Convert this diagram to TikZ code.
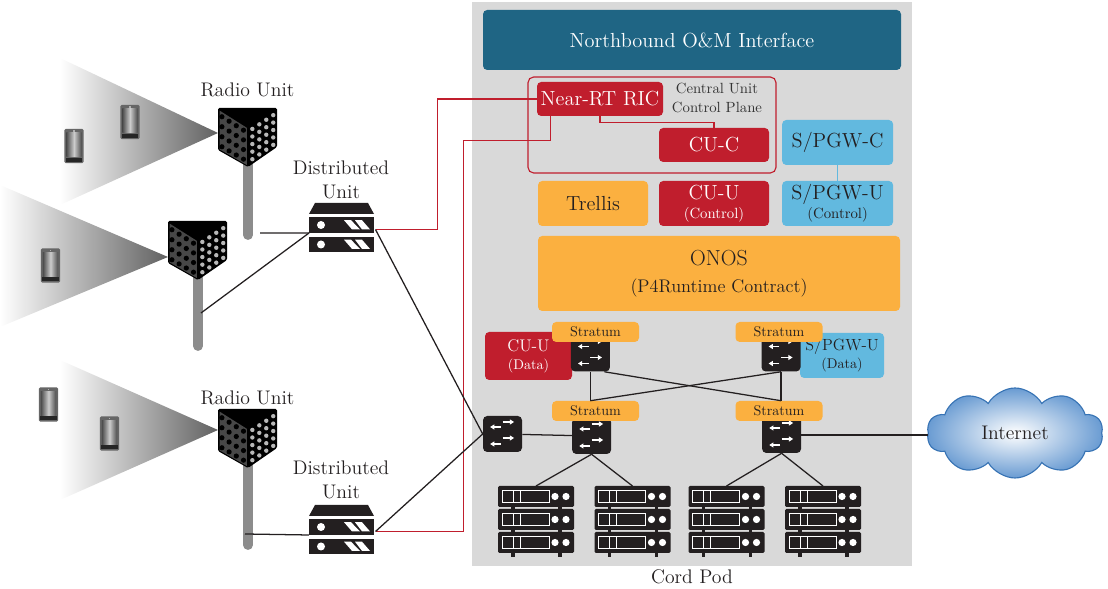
\documentclass[tikz,border=0pt]{standalone}
\usepackage{tikz}
\usetikzlibrary{arrows.meta,shapes.symbols}
\definecolor{ranteal}{RGB}{31,101,132}
\definecolor{ranred}{RGB}{192,30,45}
\definecolor{ranorange}{RGB}{251,176,64}
\definecolor{ranblue}{RGB}{98,185,223}
\definecolor{rangray}{RGB}{217,217,217}
\definecolor{ranblack}{RGB}{35,31,32}
\definecolor{rantext}{RGB}{35,31,32}
\definecolor{rancloud}{RGB}{105,155,210}
\definecolor{rancloudedge}{RGB}{55,115,180}
\tikzset{
  ranbox/.style={rounded corners=3pt, align=center, inner sep=0pt, text=rantext,
    font=\fontsize{14.5}{16}\selectfont},
  ranredbox/.style={ranbox, fill=ranred, text=white},
  ranorangebox/.style={ranbox, fill=ranorange},
  ranbluebox/.style={ranbox, fill=ranblue},
  stratumbox/.style={ranbox, fill=ranorange, minimum width=2.175cm,
    minimum height=0.5cm, font=\fontsize{10}{12}\selectfont},
  ranswitch/.style={fill=ranblack, rounded corners=3pt, minimum width=0.975cm,
    minimum height=0.9cm, inner sep=0pt,
    path picture={
      \begin{scope}[shift={(path picture bounding box.center)}, white,
          line width=1pt, -{Triangle[width=3.5pt,length=3pt]}]
        \draw (0.0,0.30) -- (0.29,0.30);
        \draw (0.0,-0.10) -- (0.29,-0.10);
        \draw (-0.04,0.175) -- (-0.31,0.175);
        \draw (-0.04,-0.25) -- (-0.31,-0.25);
      \end{scope}}},
  ranlink/.style={draw=ranblack, line width=0.9pt},
  ranredlink/.style={draw=ranred, line width=0.9pt},
  ranpole/.style={draw=black!45, line width=7pt, line cap=round},
  ranlabel/.style={align=center, text=rantext, font=\fontsize{14}{17}\selectfont},
  % antenna panel on a pole, origin at the lower front corner
  pics/antenna/.style={code={
    \draw[ranpole] (0,0.2) -- (0,-#1);
    \fill[black, rounded corners=1pt] (-0.75,1.475) -- (0.725,1.475) -- (0.725,0.5)
      -- (0,0) -- (-0.75,0.425) -- cycle;
    \fill[black!72] (-0.71,1.41) -- (-0.03,0.98) -- (-0.03,0.05) -- (-0.71,0.44) -- cycle;
    \foreach \p in {0.13,0.37,0.61,0.85}
      \foreach \q in {0.13,0.37,0.61,0.85}
        \fill[black] ({-0.75+0.75*\p},{0.425-0.425*\p+\q*(1.05-0.05*\p)}) circle (0.065);
    \foreach \p in {0.15,0.39,0.63,0.87}
      \foreach \q in {0.12,0.31,0.5,0.69,0.88}
        \fill[black!28] ({0.725*\p},{0.5*\p+\q*(1.0-0.025*\p)}) circle (0.055);
  }},
  % handset
  pics/phone/.style={code={
    \fill[black!60, rounded corners=1pt] (-0.24,-0.43) rectangle (0.24,0.43);
    \shade[left color=black!70, right color=black!70, middle color=black!20]
      (-0.19,-0.27) rectangle (0.19,0.33);
    \fill[black!85] (-0.21,-0.40) rectangle (0.21,-0.30);
    \fill[black!30] (-0.02,0.36) rectangle (0.02,0.39);
  }},
  % distributed unit box
  pics/duicon/.style={code={
    \coordinate (-west) at (-0.8125,-0.1375);
    \coordinate (-east) at (0.85,-0.05);
    \fill[ranblack] (-0.6625,0.6125) -- (0.6625,0.6125) -- (0.8125,0.3375)
      -- (-0.8125,0.3375) -- cycle;
    \foreach \y in {0.0625,-0.425}{
      \fill[ranblack] (-0.8125,\y-0.195) rectangle (0.8125,\y+0.195);
      \fill[white] (-0.5125,\y) circle (0.1);
      \fill[white] (0.0625,\y+0.12) -- (0.2375,\y+0.12) -- (0.4625,\y-0.11)
        -- (0.2625,\y-0.11) -- cycle;
      \fill[white] (0.3375,\y+0.12) -- (0.5125,\y+0.12) -- (0.7125,\y-0.11)
        -- (0.5125,\y-0.11) -- cycle;
    }
  }},
  % stack of three servers, origin at the top centre
  pics/rack/.style={code={
    \coordinate (-top) at (0,0);
    \fill[ranblack] (-0.615,-0.1) rectangle (-0.535,-1.775);
    \fill[ranblack] (0.56,-0.1) rectangle (0.64,-1.775);
    \foreach \y in {-0.2625,-0.8375,-1.4125}{
      \fill[ranblack, rounded corners=1pt] (-0.95,\y-0.2625) rectangle (0.95,\y+0.2625);
      \draw[white, line width=0.6pt] (-0.85,\y-0.16) rectangle (-0.575,\y+0.16)
        (-0.575,\y-0.16) rectangle (-0.40,\y+0.16)
        (-0.40,\y-0.16) rectangle (0.325,\y+0.16);
      \fill[white] (0.475,\y) circle (0.09) (0.75,\y) circle (0.09);
    }
  }}
}

\begin{document}
\begin{tikzpicture}
  \useasboundingbox (0,0) rectangle (27.7,14.725);

  % cord pod background
  \node[fill=rangray, minimum width=11cm, minimum height=14.1cm, inner sep=0pt] (pod) at (17.30,7.625) {};
  \node[ranlabel] (podlbl) at (17.30,0.30) {Cord Pod};

  % radio beams
  \shade[left color=white, right color=black!62] (5.45,11.40) -- (1.50,13.275) -- (1.50,9.60) -- cycle;
  \shade[left color=white, right color=black!62] (4.20,8.30) -- (0,10.10) -- (0,6.55) -- cycle;
  \shade[left color=white, right color=black!62] (5.45,3.975) -- (1.50,5.725) -- (1.50,2.225) -- cycle;

  \pic (ueA) at (3.25,11.675) {phone};
  \pic (ueB) at (1.85,11.075) {phone};
  \pic (ueC) at (1.2625,8.0875) {phone};
  \pic (ueD) at (1.2125,4.6125) {phone};
  \pic (ueE) at (2.7375,3.8875) {phone};

  \pic (ruA) at (6.20,10.55) {antenna=1.7};
  \pic (ruB) at (4.95,7.725) {antenna=1.65};
  \pic (ruC) at (6.20,3.025) {antenna=1.925};
  \node[ranlabel] (ruAlbl) at (6.1875,12.475) {Radio Unit};
  \node[ranlabel] (ruClbl) at (6.1875,4.775) {Radio Unit};
  \coordinate (ruAtap) at (6.50,8.90);
  \coordinate (ruBtap) at (5.025,6.90);
  \coordinate (ruCtap) at (6.125,1.375);

  \pic (duA) at (8.5375,9.0375) {duicon};
  \pic (duB) at (8.5375,1.4875) {duicon};
  \node[ranlabel] (duAlbl) at (8.525,10.225) {Distributed\\Unit};
  \node[ranlabel] (duBlbl) at (8.525,2.725) {Distributed\\Unit};

  % control and management
  \node[ranbox, fill=ranteal, text=white, minimum width=10.45cm, minimum height=1.5cm] (nbi) at (17.30,13.725) {Northbound O\&M Interface};
  \node[draw=ranred, line width=0.8pt, rounded corners=4pt, minimum width=6.2cm, minimum height=2.4cm] (cucp) at (16.30,11.60) {};
  \node[ranredbox, minimum width=3.15cm, minimum height=0.85cm] (ric) at (15.00,12.25) {Near-RT RIC};
  \node[align=center, text=black!80, font=\fontsize{10.5}{13.5}\selectfont] (cucplbl) at (17.925,12.275) {Central Unit\\Control Plane};
  \node[ranredbox, minimum width=2.75cm, minimum height=0.85cm] (cuc) at (17.85,11.10) {CU-C};
  \node[ranbluebox, minimum width=2.775cm, minimum height=1.125cm] (pgwc) at (20.94,11.1625) {S/PGW-C};
  \node[ranorangebox, minimum width=2.75cm, minimum height=1.125cm] (trellis) at (14.825,9.6375) {Trellis};
  \node[ranredbox, minimum width=2.75cm, minimum height=1.125cm] (cuuctl) at (17.85,9.6375) {CU-U\\[-2.5pt]{\fontsize{10.5}{12}\selectfont (Control)}};
  \node[ranbluebox, minimum width=2.775cm, minimum height=1.125cm] (pgwuctl) at (20.94,9.6375) {S/PGW-U\\[-2.5pt]{\fontsize{10.5}{12}\selectfont (Control)}};
  \node[ranorangebox, minimum width=9.05cm, minimum height=1.875cm, font=\fontsize{15.5}{17}\selectfont] (onos) at (17.975,7.8875) {ONOS\\[2pt]{\fontsize{13}{15}\selectfont (P4Runtime Contract)}};
  \draw[draw=ranblue, line width=1.2pt] (pgwc) -- (pgwuctl);

  % data plane
  \node[ranredbox, minimum width=2.175cm, minimum height=1.2cm, font=\fontsize{12}{14}\selectfont] (cuudata) at (13.2125,5.825) {CU-U\\[-1.2pt]{\fontsize{10}{12}\selectfont (Data)}};
  \node[ranbluebox, minimum width=2.1cm, minimum height=1.125cm, font=\fontsize{11.5}{14}\selectfont] (pgwudata) at (21.05,5.8375) {S/PGW-U\\[-1.2pt]{\fontsize{10}{12}\selectfont (Data)}};
  \node[ranswitch] (swUL) at (14.76,5.8875) {};
  \node[ranswitch] (swUR) at (19.525,5.8875) {};
  \node[ranswitch] (swLL) at (14.79,3.825) {};
  \node[ranswitch] (swLR) at (19.54,3.85) {};
  \node[ranswitch] (swE) at (12.5625,3.875) {};
  \node[stratumbox] (stUL) at (14.8875,6.425) {Stratum};
  \node[stratumbox] (stUR) at (19.475,6.425) {Stratum};
  \node[stratumbox] (stLL) at (14.8875,4.45) {Stratum};
  \node[stratumbox] (stLR) at (19.475,4.45) {Stratum};

  \pic (rkA) at (13.40,2.575) {rack};
  \pic (rkB) at (15.8125,2.575) {rack};
  \pic (rkC) at (18.1625,2.575) {rack};
  \pic (rkD) at (20.575,2.575) {rack};

  \node[cloud, cloud puffs=10, cloud puff arc=120, cloud ignores aspect,
    minimum width=4.4cm, minimum height=2.25cm, draw=rancloudedge, line width=0.8pt,
    inner color=white, outer color=rancloud, text=rantext,
    font=\fontsize{14}{16}\selectfont] (net) at (25.375,3.90) {Internet};

  % fronthaul and midhaul
  \draw[ranlink] (ruAtap) -- (duA-west);
  \draw[ranlink] (ruBtap) -- (duA-west);
  \draw[ranlink] (ruCtap) -- (duB-west);
  \draw[ranredlink] (duA-east) -- ++(1.55,0) |- (ric.west);
  \draw[ranredlink] (duB-east) -- ++(2.2,0) |- ([xshift=0.35cm,yshift=-0.6cm]ric.south west) -- ([xshift=0.35cm]ric.south west);
  \draw[ranredlink] (ric.south) -- ++(0,-0.15) -| (cuc.north);
  \draw[ranlink] (duA-east) -- (swE.west);
  \draw[ranlink] (duB-east) -- (swE.west);

  % fabric
  \draw[ranlink] (swE) -- (swLL);
  \draw[ranlink] (swLR.east) -- (swLR.east -| net.west);
  \draw[ranlink] (swUL.south) -- (swUL.south |- stLL.north);
  \draw[ranlink] (swUR.south) -- (swUR.south |- stLR.north);
  \draw[ranlink] ([xshift=0.35cm]swUL.south) -- (swUR.south |- stLR.north);
  \draw[ranlink] (swUR.south) -- (swUL.south |- stLL.north);
  \draw[ranlink] (swLL.south) -- (rkA-top);
  \draw[ranlink] (swLL.south) -- (rkB-top);
  \draw[ranlink] (swLR.south) -- (rkC-top);
  \draw[ranlink] (swLR.south) -- (rkD-top);
\end{tikzpicture}
\end{document}
